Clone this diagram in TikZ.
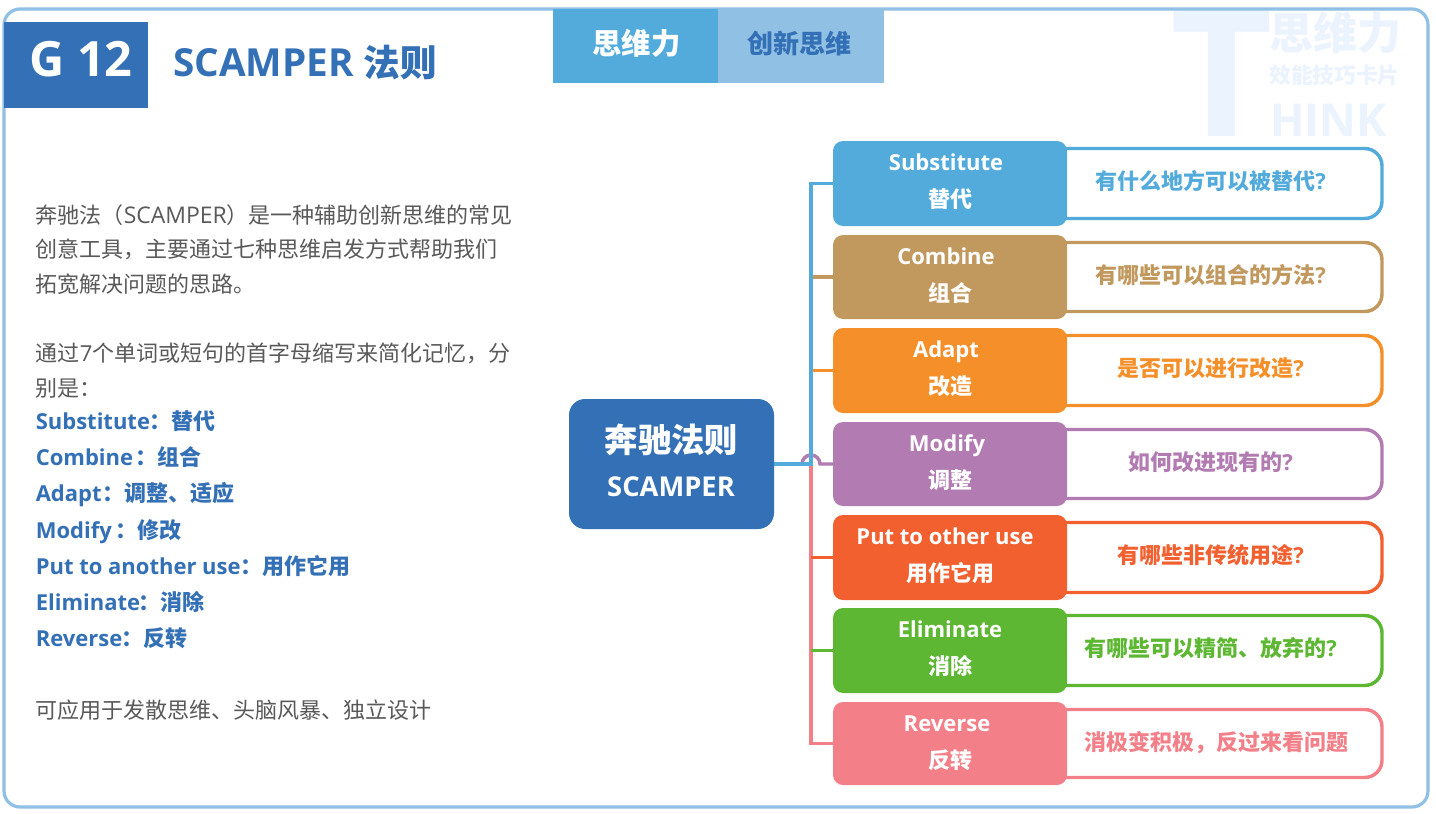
\documentclass[tikz,border=0pt]{standalone}
\usepackage{fontspec}
\setmainfont{Open Sans}
\newfontfamily\cjkf{Noto Sans CJK SC}
\newcommand\zh[1]{{\cjkf #1}}
\definecolor{frameblue}{HTML}{90C0E4}
\definecolor{deepblue}{HTML}{3470B5}
\definecolor{tabblue}{HTML}{52ABDB}
\definecolor{textgray}{HTML}{595959}
\definecolor{wm}{HTML}{EBF3FF}
\definecolor{cA}{HTML}{52ABDB}
\definecolor{cB}{HTML}{C1985E}
\definecolor{cC}{HTML}{F58F29}
\definecolor{cD}{HTML}{B27BB2}
\definecolor{cE}{HTML}{F26030}
\definecolor{cF}{HTML}{5DB732}
\definecolor{cG}{HTML}{F38088}
\tikzset{
  body/.style={anchor=base west,inner sep=0,text=textgray,font=\fontsize{16.5}{20}\selectfont},
  bodyb/.style={anchor=base west,inner sep=0,text=deepblue,font=\fontsize{16.5}{20}\selectfont\bfseries},
  cardl/.style={rounded corners=7.5pt,inner sep=0,outer sep=0,minimum width=175.5pt},
  cardr/.style={rounded corners=13pt,inner sep=0,outer sep=0,fill=white,line width=2.6pt,minimum width=253.5pt},
  cardtxt/.style={anchor=base,inner sep=0,text=white,font=\fontsize{16.5}{20}\selectfont\bfseries},
  qtxt/.style={anchor=base west,inner sep=0,font=\fontsize{16.5}{20}\selectfont\bfseries},
  wire/.style={line width=2.6pt},
  wmark/.style={anchor=base west,inner sep=0,text=wm},
}
% #1 id, #2 top, #3 bottom, #4 colour, #5 en, #6 en x, #7 zh, #8 question (with its mark), #9 question x
\newcommand\card[9]{
  \node[cardr,draw=#4,minimum height={(#3-#2-15)*0.75pt}] (r#1) at (1213,{(#2+#3)/2}) {};
  \node[cardl,fill=#4,minimum height={(#3-#2)*0.75pt}] (b#1) at (950,{(#2+#3)/2}) {};
  \node[cardtxt] (e#1) at (#6,#2+29.5) {#5};
  \node[cardtxt] (z#1) at (950,#2+66) {\zh{#7}};
  \node[qtxt,text=#4] (q#1) at (#9,#2+48) {#8};
}
\begin{document}
\begin{tikzpicture}[x=0.75pt,y=-0.75pt]
\useasboundingbox (0,0) rectangle (1436,814);
\fill[white] (0,0) rectangle (1436,814);
% watermark
\node[wmark,font=\fontsize{133}{133}\selectfont\bfseries] (wmT) at (1170,136) {T};
\node[wmark,font=\fontsize{33}{34}\selectfont\bfseries] (wm1) at (1269,49) {\zh{思维力}};
\node[wmark,font=\fontsize{16.3}{18}\selectfont\bfseries] (wm2) at (1269,83) {\zh{效能技巧卡片}};
\node[wmark,font=\fontsize{34}{36}\selectfont\bfseries] (wm3) at (1270,136) {HINK};
% frame
\draw[frameblue,line width=2.4pt,rounded corners=12pt] (4,9) rectangle (1428,807);
% header
\node[fill=deepblue,inner sep=0,outer sep=0,minimum width=108pt,minimum height=64.5pt] (code) at (76,65) {};
\node[anchor=base,inner sep=0,text=white,font=\fontsize{36.5}{40}\selectfont\bfseries] (codet) at (81,76) {G 12};
\node[anchor=base west,inner sep=0,text=deepblue,font=\fontsize{29}{32}\selectfont\bfseries] (title) at (173,76) {SCAMPER {\fontsize{27.5}{32}\selectfont\zh{法则}}};
\node[fill=tabblue,inner sep=0,outer sep=0,minimum width=123.75pt,minimum height=55.5pt] (tab1) at (635.5,46) {};
\node[fill=frameblue,inner sep=0,outer sep=0,minimum width=124.5pt,minimum height=55.5pt] (tab2) at (801,46) {};
\node[anchor=base,inner sep=0,text=white,font=\fontsize{22}{24}\selectfont\bfseries] (tab1t) at (636.5,54) {\zh{思维力}};
\node[anchor=base,inner sep=0,text=deepblue,font=\fontsize{19.5}{24}\selectfont\bfseries] (tab2t) at (799.5,53) {\zh{创新思维}};
% left text
\node[body] (l1) at (35.5,223) {\zh{奔驰法（}{\fontsize{17.2}{20}\selectfont SCAMPER}\zh{）是一种辅助创新思维的常见}};
\node[body] (l2) at (35.5,257) {\zh{创意工具，主要通过七种思维启发方式帮助我们}};
\node[body] (l3) at (35.5,292) {\zh{拓宽解决问题的思路。}};
\node[body] (l4) at (35.5,361) {\zh{通过}7\zh{个单词或短句的首字母缩写来简化记忆，分}};
\node[body] (l5) at (35.5,396) {\zh{别是：}};
\node[bodyb] (l6) at (35.5,429) {Substitute\hspace{-0.7pt}\zh{：替代}};
\node[bodyb] (l7) at (35.5,465) {Combine\hspace{1.5pt}\zh{：组合}};
\node[bodyb] (l8) at (35.5,501) {Adapt\hspace{1pt}\zh{：调整、适应}};
\node[bodyb] (l9) at (35.5,538) {Modify\hspace{3pt}\zh{：修改}};
\node[bodyb] (l10) at (35.5,574) {Put to another use\zh{：用作它用}};
\node[bodyb] (l11) at (35.5,610) {Eliminate\hspace{-1.5pt}\zh{：消除}};
\node[bodyb] (l12) at (35.5,646) {Reverse\hspace{-0.7pt}\zh{：反转}};
\node[body] (l13) at (35.5,718) {\zh{可应用于发散思维、头脑风暴、独立设计}};
% cards
\card{1}{141}{226}{cA}{Substitute}{946}{替代}{\zh{有什么地方可以被替代}?}{1095}
\card{2}{235}{319}{cB}{Combine}{946}{组合}{\zh{有哪些可以组合的方法}?}{1095}
\card{3}{328}{413}{cC}{Adapt}{946}{改造}{\zh{是否可以进行改造}?}{1117}
\card{4}{422}{506}{cD}{Modify}{947}{调整}{\zh{如何改进现有的}?}{1128}
\card{5}{515}{600}{cE}{Put to other use}{945}{用作它用}{\zh{有哪些非传统用途}?}{1117}
\card{6}{608}{693}{cF}{Eliminate}{950}{消除}{\zh{有哪些可以精简、放弃的}?}{1084}
\card{7}{702}{785}{cG}{Reverse}{947}{反转}{\zh{消极变积极，反过来看问题}}{1084}
% centre
\node[fill=deepblue,rounded corners=12pt,inner sep=0,outer sep=0,minimum width=153.75pt,minimum height=97.5pt] (main) at (671.5,464) {};
\node[anchor=base,inner sep=0,text=white,font=\fontsize{25}{30}\selectfont\bfseries] (main1) at (671.5,452) {\zh{奔驰法则}};
\node[anchor=base,inner sep=0,text=white,font=\fontsize{20.5}{24}\selectfont\bfseries] (main2) at (671,496) {SCAMPER};
% connectors
\coordinate (spine) at (811,464);
\draw[wire,cG] (spine) -- (spine |- b7.west) -- (b7.west);
\draw[wire,cF] (spine |- b6.west) -- (b6.west);
\draw[wire,cE] (spine |- b5.west) -- (b5.west);
\draw[wire,cD] (b4.west) -- (820,464) arc[start angle=0,end angle=180,radius=6.75pt];
\draw[wire,cC] (spine |- b3.west) -- (b3.west);
\draw[wire,cB] (spine |- b2.west) -- (b2.west);
\draw[wire,cA] (main.east) -- (spine) -- (spine |- b1.west) -- (b1.west);
\end{tikzpicture}
\end{document}
